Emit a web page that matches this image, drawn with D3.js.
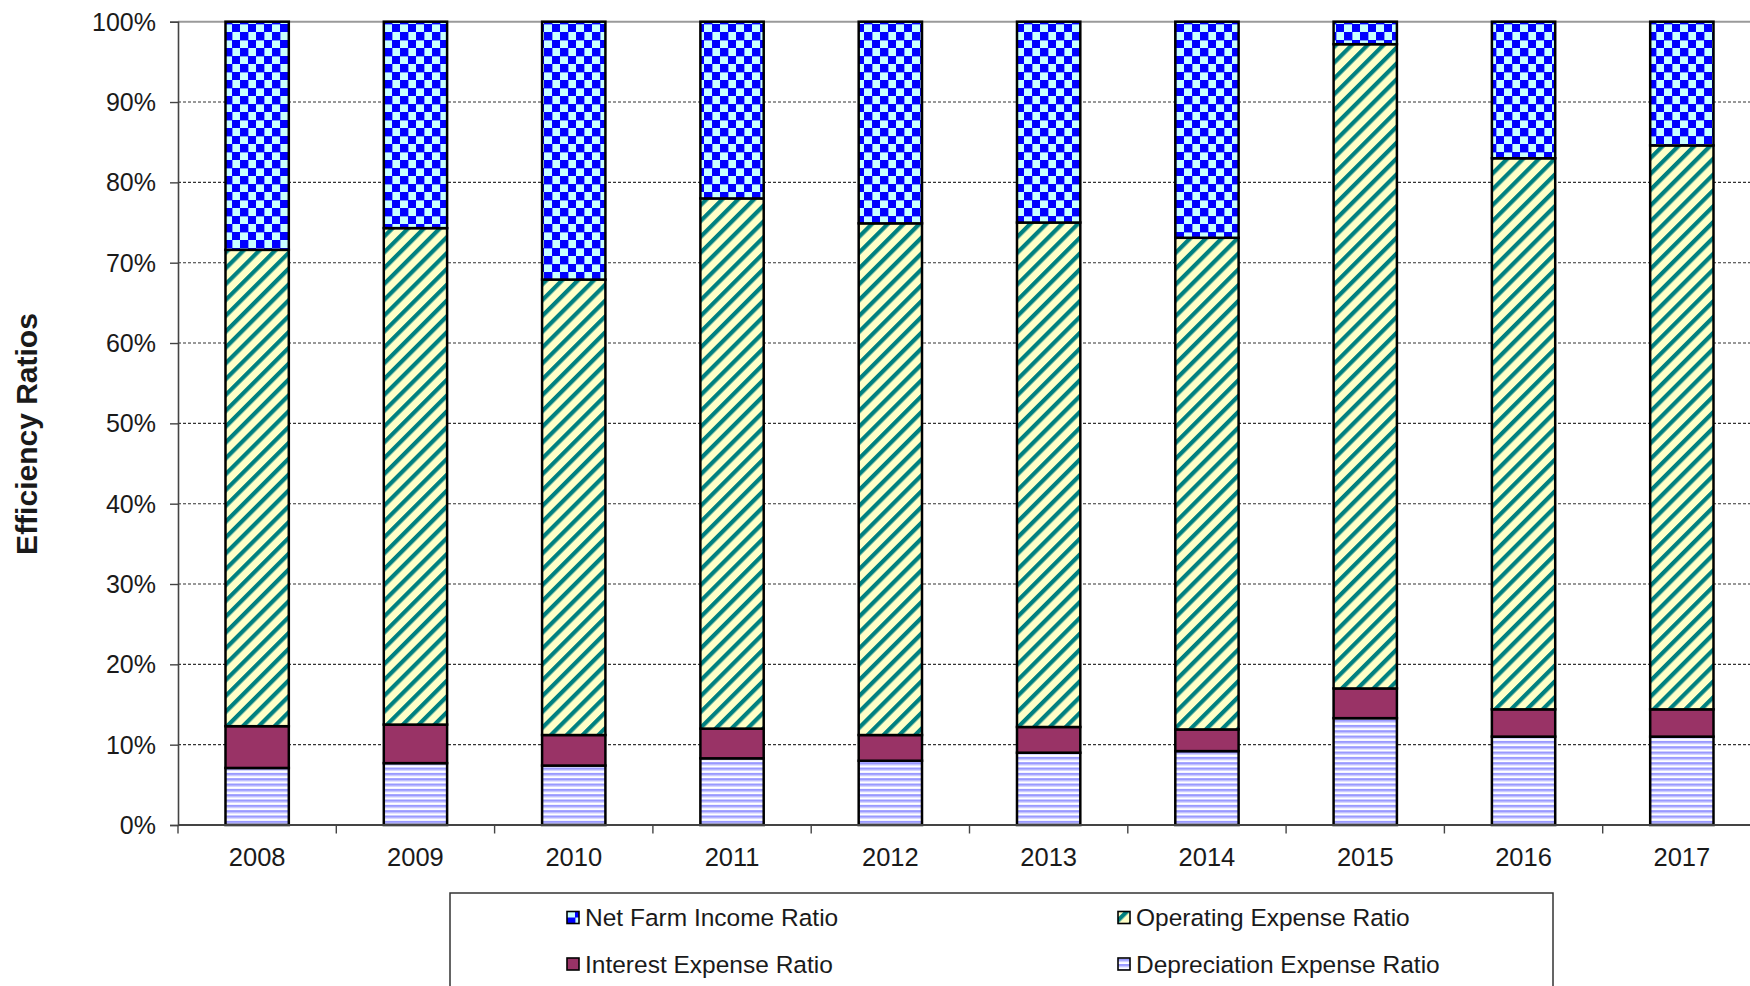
<!DOCTYPE html>
<html>
<head>
<meta charset="utf-8">
<script src="https://cdn.jsdelivr.net/npm/d3@7"></script>
<style>
  html, body { margin: 0; padding: 0; background: #fff; }
  svg { display: block; }
  text { font-family: "Liberation Sans", Arial, sans-serif; fill: #1a1a1a; }
</style>
</head>
<body>
<svg id="chart" width="1750" height="986"></svg>
<script>
// Efficiency ratios by year (percent of gross farm income)
const years = ["2008", "2009", "2010", "2011", "2012", "2013", "2014", "2015", "2016", "2017"];
const depreciation = [7.1, 7.7, 7.4, 8.3, 8.0, 9.0, 9.2, 13.3, 11.0, 11.0];
const interest = [5.2, 4.8, 3.8, 3.7, 3.2, 3.2, 2.7, 3.7, 3.4, 3.4];
const operating = [59.3, 61.8, 56.7, 66.0, 63.7, 62.8, 61.2, 80.2, 68.6, 70.2];
const netFarmIncome = [28.4, 25.7, 32.1, 22.0, 25.1, 25.0, 26.9, 2.8, 17.0, 15.4];

const yTicks = [0, 0.1, 0.2, 0.3, 0.4, 0.5, 0.6, 0.7, 0.8, 0.9, 1.0];

// stacking order, bottom to top
const seriesKeys = ["dep", "int", "op", "net"];
const seriesNames = {
  net: "Net Farm Income Ratio",
  op: "Operating Expense Ratio",
  int: "Interest Expense Ratio",
  dep: "Depreciation Expense Ratio"
};

const rows = years.map((yr, i) => ({
  year: yr,
  dep: depreciation[i],
  int: interest[i],
  op: operating[i],
  net: netFarmIncome[i]
}));

const svg = d3.select("#chart");

// ---- fill patterns ----
const defs = svg.append("defs");

// blue / light-cyan checkerboard
const pNet = defs.append("pattern").attr("id", "pat-net")
  .attr("patternUnits", "userSpaceOnUse").attr("width", 16).attr("height", 16);
pNet.append("rect").attr("width", 16).attr("height", 16).attr("fill", "#c8ffff");
pNet.append("rect").attr("x", 0).attr("y", 0).attr("width", 8.4).attr("height", 8.4).attr("fill", "#0000ff");
pNet.append("rect").attr("x", 8).attr("y", 8).attr("width", 8.4).attr("height", 8.4).attr("fill", "#0000ff");

// teal upward diagonals on pale yellow
const pOp = defs.append("pattern").attr("id", "pat-op")
  .attr("patternUnits", "userSpaceOnUse").attr("width", 11.2).attr("height", 11.2)
  .attr("patternTransform", "rotate(45)");
pOp.append("rect").attr("width", 11.2).attr("height", 11.2).attr("fill", "#ffffc8");
pOp.append("rect").attr("x", 0).attr("width", 4.2).attr("height", 11.2).attr("fill", "#008080");

// plum solid
const colInt = "#993366";

// periwinkle horizontal lines on white
const pDep = defs.append("pattern").attr("id", "pat-dep")
  .attr("patternUnits", "userSpaceOnUse").attr("width", 10).attr("height", 5.33);
pDep.append("rect").attr("width", 10).attr("height", 5.33).attr("fill", "#ffffff");
pDep.append("rect").attr("y", 0).attr("width", 10).attr("height", 2.4).attr("fill", "#9999ff");
pDep.append("rect").attr("y", 2.4).attr("width", 10).attr("height", 0.9).attr("fill", "#ccccff");

const fills = { net: "url(#pat-net)", op: "url(#pat-op)", int: colInt, dep: "url(#pat-dep)" };

// ---- scales ----
const plotLeft = 178, plotRight = 1761, plotTop = 21.7, plotBottom = 825;

const x = d3.scaleBand().domain(years).range([plotLeft, plotRight])
  .paddingInner(0.6).paddingOuter(0.3);
const y = d3.scaleLinear().domain([0, 1]).range([plotBottom, plotTop]);

const stack = d3.stack().keys(seriesKeys).offset(d3.stackOffsetExpand);
const stacked = stack(rows);

// ---- gridlines ----
const grid = svg.append("g");
grid.selectAll("line")
  .data(yTicks.filter(t => t > 0 && t < 1))
  .join("line")
  .attr("x1", plotLeft).attr("x2", 1750)
  .attr("y1", d => y(d)).attr("y2", d => y(d))
  .attr("stroke", "#333").attr("stroke-width", 1.1)
  .attr("stroke-dasharray", "3,2");

// plot border top edge
svg.append("line")
  .attr("x1", plotLeft).attr("x2", 1750)
  .attr("y1", y(1)).attr("y2", y(1))
  .attr("stroke", "#9a9a9a").attr("stroke-width", 2);

// ---- bars ----
const layers = svg.append("g").selectAll("g.layer")
  .data(stacked)
  .join("g")
  .attr("class", "layer")
  .attr("fill", d => fills[d.key]);

layers.selectAll("rect")
  .data(d => d)
  .join("rect")
  .attr("x", d => x(d.data.year))
  .attr("width", x.bandwidth())
  .attr("y", d => y(d[1]))
  .attr("height", d => y(d[0]) - y(d[1]))
  .attr("stroke", "#000")
  .attr("stroke-width", 2.5);

// ---- axes ----
const yAxis = d3.axisLeft(y)
  .tickValues(yTicks)
  .tickFormat(d3.format(".0%"))
  .tickSize(8)
  .tickPadding(14);

const gy = svg.append("g").attr("transform", `translate(${plotLeft},0)`).call(yAxis);
gy.select(".domain").attr("stroke", "#444").attr("stroke-width", 1.6);
gy.selectAll(".tick line").attr("stroke", "#444").attr("stroke-width", 1.4);
gy.selectAll(".tick text")
  .attr("font-size", 25)
  .attr("font-family", "'Liberation Sans', Arial, sans-serif")
  .attr("fill", "#1a1a1a")
  .attr("dy", "0.34em");

// category axis: baseline, boundary ticks, labels
const step = x.step();
const boundaries = d3.range(years.length + 1).map(i => x(years[0]) - (step - x.bandwidth()) / 2 + i * step);

svg.append("line")
  .attr("x1", plotLeft).attr("x2", 1750)
  .attr("y1", plotBottom).attr("y2", plotBottom)
  .attr("stroke", "#444").attr("stroke-width", 1.8);

svg.append("g").selectAll("line")
  .data(boundaries.filter(b => b < 1750))
  .join("line")
  .attr("x1", d => d).attr("x2", d => d)
  .attr("y1", plotBottom).attr("y2", plotBottom + 8.5)
  .attr("stroke", "#444").attr("stroke-width", 1.4);

svg.append("g").selectAll("text")
  .data(years)
  .join("text")
  .attr("x", d => x(d) + x.bandwidth() / 2)
  .attr("y", 866)
  .attr("text-anchor", "middle")
  .attr("font-size", 25.5)
  .text(d => d);

// y-axis title
svg.append("text")
  .attr("transform", "translate(37,434) rotate(-90)")
  .attr("text-anchor", "middle")
  .attr("font-size", 30)
  .attr("font-weight", "bold")
  .text("Efficiency Ratios");

// ---- legend ----
const legend = svg.append("g");
legend.append("rect")
  .attr("x", 450).attr("y", 893)
  .attr("width", 1103).attr("height", 200)
  .attr("fill", "#fff")
  .attr("stroke", "#333").attr("stroke-width", 1.5);

const legendItems = [
  { key: "net", x: 567, y: 917.5 },
  { key: "op", x: 1118, y: 917.5 },
  { key: "int", x: 567, y: 964 },
  { key: "dep", x: 1118, y: 964 }
];

const li = legend.selectAll("g.item")
  .data(legendItems)
  .join("g")
  .attr("class", "item")
  .attr("transform", d => `translate(${d.x},${d.y})`);

li.append("rect")
  .attr("x", 0).attr("y", -6)
  .attr("width", 12).attr("height", 12)
  .attr("fill", d => fills[d.key])
  .attr("stroke", "#000").attr("stroke-width", 1.6);

li.append("text")
  .attr("x", 18).attr("y", 0)
  .attr("dy", "0.35em")
  .attr("font-size", 24.5)
  .text(d => seriesNames[d.key]);
</script>
</body>
</html>
